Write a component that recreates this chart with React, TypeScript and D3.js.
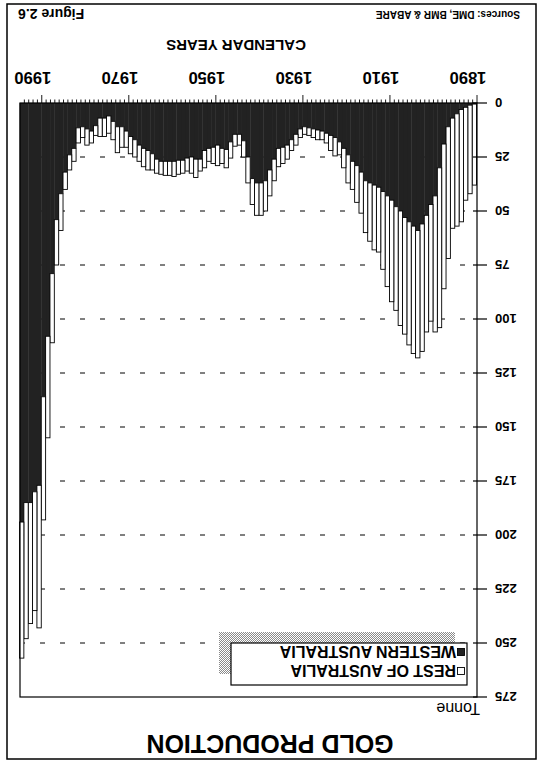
import React, { useEffect, useRef } from "react";
import * as d3 from "d3";

// annual gold output, tonnes, 1890 .. 1994
const FIRST_YEAR = 1890;
const westernAustralia = [
  0.5, 1, 2, 3, 5, 7, 11, 19, 30, 43,
  47, 52, 56, 59, 57, 55, 53, 50, 48, 45,
  43, 41, 39, 38, 37, 36, 32, 29, 27, 24,
  21, 18, 16, 15, 14, 13, 12.5, 12, 11.5, 11,
  12, 14.5, 17, 19.5, 20.5, 21, 26, 31, 36, 37,
  37, 35, 25, 17.5, 14.5, 14.5, 18, 21.5, 21, 19.5,
  20.5, 21, 22, 26, 26, 25, 25.5, 26.5, 26.5, 27,
  27, 27, 27, 26, 23.5, 22, 21, 19.5, 17, 15.5,
  13, 11, 11, 8.5, 6, 7, 7, 10.5, 13, 12,
  11, 11.5, 21, 24, 32, 42, 54, 79, 108, 136,
  177, 180, 185, 185, 194,
];
const restOfAustralia = [
  37.5, 41, 43, 52, 52, 51, 61, 67, 74, 63,
  54, 54, 59, 59, 59, 57, 54, 53, 48, 47,
  42, 36, 30, 30, 27, 24, 19, 17, 13, 13,
  9, 6, 8.5, 7, 4.5, 4, 4.5, 4, 3.5, 3.5,
  4, 5, 5, 6.5, 7.5, 8.5, 10, 12, 14, 15,
  15, 12, 12, 7.5, 5, 5.5, 7.5, 8.5, 7, 9.5,
  7.5, 6, 8, 5.5, 8.5, 7.5, 6, 6, 6.5, 7,
  6.5, 6.5, 6, 6.5, 7.5, 9, 8.5, 7.5, 8, 8,
  7.5, 9.5, 12, 8.5, 8, 8.5, 8.5, 4.5, 5.5, 7.5,
  5, 7, 6, 7, 8, 17, 21, 32, 47, 57,
  66, 55, 56, 63, 63,
];
const yearTicks = [1890, 1910, 1930, 1950, 1970, 1990];
const tonneTicks = [0, 25, 50, 75, 100, 125, 150, 175, 200, 225, 250, 275];
const legendLabels = ["REST OF AUSTRALIA", "WESTERN AUSTRALIA"];

const W = 538;
const H = 763;
const FONT = "'Liberation Sans', Arial, Helvetica, sans-serif";
const DARK = "#222";

export default function App() {
  const ref = useRef<SVGSVGElement>(null);

  useEffect(() => {
    const svg = d3.select(ref.current);
    svg.selectAll("*").remove();

    const defs = svg.append("defs");
    const pat = defs.append("pattern")
      .attr("id", "stipple")
      .attr("width", 2).attr("height", 2)
      .attr("patternUnits", "userSpaceOnUse");
    pat.append("rect").attr("width", 2).attr("height", 2).attr("fill", "#fff");
    pat.append("rect").attr("width", 1).attr("height", 1).attr("fill", "#8a8a8a");
    pat.append("rect").attr("x", 1).attr("y", 1).attr("width", 1).attr("height", 1).attr("fill", "#8a8a8a");

    // the scanned page is upside down: draw it upright and turn it over
    const g = svg.append("g")
      .attr("transform", `rotate(180 ${W / 2} ${H / 2})`)
      .style("font-family", FONT);

    g.append("rect")
      .attr("x", 2).attr("y", 4).attr("width", 529).attr("height", 755)
      .attr("fill", "none").attr("stroke", "#000").attr("stroke-width", 1.5);

    const data = westernAustralia.map((wa, i) => ({
      year: FIRST_YEAR + i,
      wa,
      rest: restOfAustralia[i],
    }));

    const x = d3.scaleLinear().domain([FIRST_YEAR, FIRST_YEAR + data.length]).range([61, 518]);
    const y = d3.scaleLinear().domain([0, 275]).range([660, 66]);
    const [x0, x1] = x.range();

    // dashed grid
    g.append("g").selectAll("line")
      .data(tonneTicks.filter(v => v > 0 && v < 275))
      .enter().append("line")
      .attr("x1", x0).attr("x2", x1)
      .attr("y1", d => y(d)).attr("y2", d => y(d))
      .attr("stroke", "#000").attr("stroke-width", 1)
      .attr("stroke-dasharray", "5 15").attr("stroke-dashoffset", 8);

    // Western Australia, solid dark
    g.append("g").selectAll("rect")
      .data(data)
      .enter().append("rect")
      .attr("x", d => x(d.year))
      .attr("width", d => x(d.year + 1) - x(d.year) + 0.4)
      .attr("y", d => y(d.wa))
      .attr("height", d => y(0) - y(d.wa))
      .attr("fill", DARK);

    // rest of Australia, white stacked on top
    g.append("g").selectAll("rect")
      .data(data)
      .enter().append("rect")
      .attr("x", d => x(d.year) + 0.5)
      .attr("width", d => x(d.year + 1) - x(d.year))
      .attr("y", d => y(d.wa + d.rest))
      .attr("height", d => y(d.wa) - y(d.wa + d.rest))
      .attr("fill", "#fff").attr("stroke", "#000").attr("stroke-width", 0.9);

    // plot frame
    g.append("rect")
      .attr("x", x0).attr("y", y(275))
      .attr("width", x1 - x0).attr("height", y(0) - y(275))
      .attr("fill", "none").attr("stroke", "#000").attr("stroke-width", 1.2);

    // value axis
    const yAxis = g.append("g");
    yAxis.selectAll("line")
      .data(tonneTicks)
      .enter().append("line")
      .attr("x1", x0 - 10).attr("x2", x0 + 4)
      .attr("y1", d => y(d)).attr("y2", d => y(d))
      .attr("stroke", "#000").attr("stroke-width", 1.2);
    yAxis.selectAll("text")
      .data(tonneTicks)
      .enter().append("text")
      .attr("x", 43).attr("y", d => y(d) + 4.7)
      .attr("text-anchor", "end")
      .attr("font-size", 13).attr("font-weight", "bold")
      .text(d => d);

    g.append("text")
      .attr("x", 58).attr("y", 60.5)
      .attr("font-size", 16)
      .text("Tonne");

    // year axis
    const xAxis = g.append("g");
    xAxis.selectAll("line")
      .data(d3.range(FIRST_YEAR, FIRST_YEAR + data.length))
      .enter().append("line")
      .attr("x1", d => x(d)).attr("x2", d => x(d))
      .attr("y1", y(0))
      .attr("y2", d => y(0) + (yearTicks.includes(d) ? 8 : 3.5))
      .attr("stroke", "#000").attr("stroke-width", 0.9);
    xAxis.selectAll("text")
      .data(yearTicks)
      .enter().append("text")
      .attr("x", d => x(d) + 9).attr("y", 691.5)
      .attr("text-anchor", "middle")
      .attr("font-size", 16.5).attr("font-weight", "bold")
      .text(d => d);

    g.append("text")
      .attr("x", 302).attr("y", 723.5)
      .attr("text-anchor", "middle")
      .attr("font-size", 15).attr("font-weight", "bold")
      .text("CALENDAR YEARS");

    // legend with drop shadow
    const lg = g.append("g");
    lg.append("rect")
      .attr("x", 83).attr("y", 89).attr("width", 236).attr("height", 42)
      .attr("fill", "url(#stipple)");
    lg.append("rect")
      .attr("x", 71).attr("y", 78).attr("width", 236).attr("height", 42)
      .attr("fill", "#fff").attr("stroke", "#000").attr("stroke-width", 1.2);
    legendLabels.forEach((label, i) => {
      const cy = 92 + i * 19;
      lg.append("rect")
        .attr("x", 73.5).attr("y", cy - 3.5).attr("width", 7).attr("height", 7)
        .attr("fill", i === 0 ? "#fff" : DARK)
        .attr("stroke", "#000").attr("stroke-width", 0.9);
      lg.append("text")
        .attr("x", 82).attr("y", cy + 5.7)
        .attr("font-size", 16).attr("font-weight", "bold")
        .text(label);
    });

    g.append("text")
      .attr("x", 268).attr("y", 28)
      .attr("text-anchor", "middle")
      .attr("font-size", 25).attr("font-weight", "bold")
      .text("GOLD PRODUCTION");

    g.append("text")
      .attr("x", 18).attr("y", 752.5)
      .attr("font-size", 10).attr("font-weight", "bold")
      .text("Sources: DME, BMR & ABARE");

    g.append("text")
      .attr("x", 520).attr("y", 754)
      .attr("text-anchor", "end")
      .attr("font-size", 14).attr("font-weight", "bold")
      .text("Figure 2.6");
  }, []);

  return (
    <svg
      ref={ref}
      width={W}
      height={H}
      style={{ position: "absolute", left: 0, top: 0, background: "#fff", display: "block" }}
    />
  );
}
